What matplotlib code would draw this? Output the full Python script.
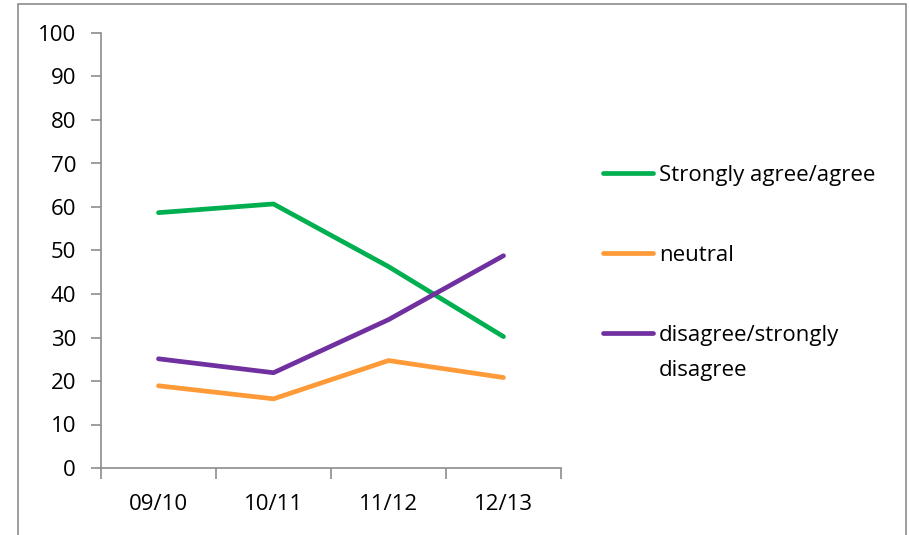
import matplotlib.pyplot as plt
from matplotlib.patches import Rectangle
from matplotlib.lines import Line2D

# chart data
years = ['09/10', '10/11', '11/12', '12/13']
agree = [58.7, 60.7, 46.3, 30.2]
neutral = [18.9, 15.9, 24.7, 20.8]
disagree = [25.1, 21.9, 34.1, 48.8]

labels = ['Strongly agree/agree', 'neutral', 'disagree/strongly\ndisagree']
colors = ['#00B050', '#FF9A38', '#7030A0']

plt.rcParams['font.family'] = ['Open Sans', 'DejaVu Sans']

W, H = 909, 535
fig = plt.figure(figsize=(W / 100, H / 100), dpi=100)

# outer chart frame
fig.patches.append(Rectangle((18 / W, -0.01), (906 - 18) / W, 1 - 4 / H + 0.01,
                             transform=fig.transFigure, fill=False,
                             edgecolor='#8c8c8c', lw=1.2))

ax = fig.add_axes([101 / W, 1 - 468 / H, (561 - 101) / W, (468 - 33) / H])

x = range(len(years))
for series, lab, col in zip([agree, neutral, disagree], labels, colors):
    ax.plot(x, series, color=col, lw=3.4, label=lab, solid_capstyle='round')

ax.set_xlim(-0.5, len(years) - 0.5)
ax.set_ylim(0, 100)
ax.set_yticks(range(0, 101, 10))
ax.set_xticks(x)
ax.set_xticklabels(years)
ax.set_xticks([i - 0.5 for i in range(len(years) + 1)], minor=True)

for side in ['top', 'right']:
    ax.spines[side].set_visible(False)
for side in ['left', 'bottom']:
    ax.spines[side].set_color('#8c8c8c')
    ax.spines[side].set_linewidth(1.2)

ax.tick_params(axis='y', length=7, width=1.2, color='#8c8c8c', labelsize=16, pad=11)
ax.tick_params(axis='x', which='major', length=0, labelsize=16, pad=19)
ax.tick_params(axis='x', which='minor', length=8, width=1.2, color='#8c8c8c')

# legend, laid out like the original: handle beside first text line
leg_y = [173, 253, 333]
for lab, col, yy in zip(labels, colors, leg_y):
    fy = 1 - yy / H
    fig.lines.append(Line2D([603 / W, 653 / W], [fy, fy], transform=fig.transFigure,
                            color=col, lw=3.4, solid_capstyle='round'))
    fig.text(659 / W, 1 - (yy - 8) / H, lab, fontsize=16, va='top', ha='left',
             linespacing=1.9, transform=fig.transFigure)

fig.savefig('out.png', dpi=100)
